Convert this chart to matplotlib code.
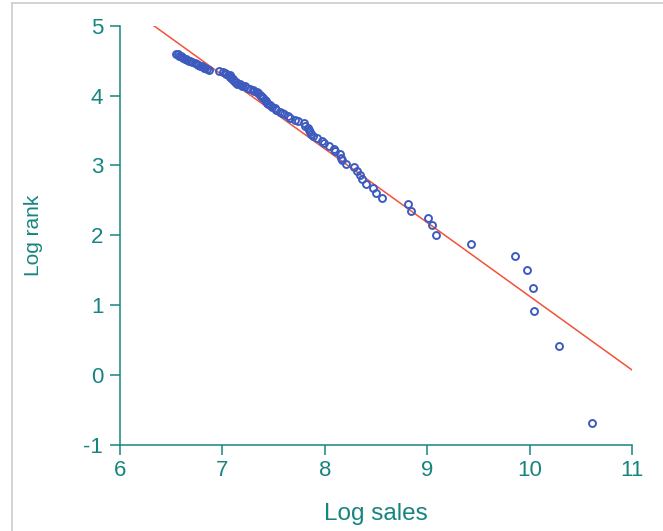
import matplotlib
matplotlib.use("Agg")
import matplotlib.pyplot as plt
from matplotlib.lines import Line2D

# log sales, one value per firm (largest first)
log_sales = [10.61, 10.29, 10.04, 10.03, 9.97, 9.86, 9.43, 9.09, 9.05, 9.01,
             8.84, 8.81, 8.56, 8.50, 8.47, 8.40, 8.36, 8.34, 8.31, 8.29,
             8.21, 8.17, 8.16, 8.15, 8.10, 8.09, 8.04, 7.99, 7.97, 7.92,
             7.88, 7.87, 7.86, 7.85, 7.84, 7.81, 7.80, 7.74, 7.71, 7.66,
             7.64, 7.60, 7.58, 7.56, 7.52, 7.51, 7.48, 7.46, 7.45, 7.44,
             7.43, 7.42, 7.40, 7.39, 7.38, 7.37, 7.35, 7.34, 7.31, 7.30,
             7.27, 7.24, 7.22, 7.19, 7.17, 7.14, 7.13, 7.12, 7.10, 7.10,
             7.08, 7.08, 7.07, 7.07, 7.05, 7.04, 7.03, 7.01, 6.97, 6.87,
             6.85, 6.83, 6.82, 6.80, 6.78, 6.76, 6.75, 6.73, 6.70, 6.68,
             6.67, 6.65, 6.64, 6.63, 6.62, 6.61, 6.60, 6.58, 6.57, 6.55]

# log (rank - 1/2)
log_rank = [-0.69, 0.41, 0.92, 1.25, 1.50, 1.70, 1.87, 2.01, 2.14, 2.25,
            2.35, 2.44, 2.53, 2.60, 2.67, 2.74, 2.80, 2.86, 2.92, 2.97,
            3.02, 3.07, 3.11, 3.16, 3.20, 3.24, 3.28, 3.32, 3.35, 3.39,
            3.42, 3.45, 3.48, 3.51, 3.54, 3.57, 3.60, 3.63, 3.65, 3.68,
            3.70, 3.73, 3.75, 3.77, 3.80, 3.82, 3.84, 3.86, 3.88, 3.90,
            3.92, 3.94, 3.96, 3.98, 4.00, 4.01, 4.03, 4.05, 4.07, 4.08,
            4.10, 4.11, 4.13, 4.14, 4.16, 4.17, 4.19, 4.20, 4.22, 4.23,
            4.25, 4.26, 4.27, 4.29, 4.30, 4.31, 4.32, 4.34, 4.35, 4.37,
            4.38, 4.39, 4.40, 4.42, 4.43, 4.44, 4.45, 4.47, 4.48, 4.49,
            4.50, 4.51, 4.52, 4.53, 4.54, 4.55, 4.56, 4.57, 4.59, 4.60]

# fitted line end points
fit_x = [6.33, 11.0]
fit_y = [5.0, 0.07]

x_ticks = [6, 7, 8, 9, 10, 11]
y_ticks = [-1, 0, 1, 2, 3, 4, 5]

teal = "#17857f"
plt.rcParams["font.family"] = ["Liberation Sans", "DejaVu Sans"]
plt.rcParams["axes.unicode_minus"] = False

fig = plt.figure(figsize=(6.63, 5.31), dpi=100)
ax = fig.add_axes([120 / 663, 1 - 444.7 / 531, 512 / 663, 419 / 531])

ax.plot(fit_x, fit_y, color="#f5503a", lw=1.1, zorder=2)
ax.plot(log_sales, log_rank, ls="none", marker="o", ms=5.0,
        mfc="none", mec="#3d5bbf", mew=1.4, zorder=3)

ax.set_xlim(6, 11)
ax.set_ylim(-1, 5)
ax.set_xticks(x_ticks)
ax.set_yticks(y_ticks)

for s in ["top", "right"]:
    ax.spines[s].set_visible(False)
for s in ["left", "bottom"]:
    ax.spines[s].set_color(teal)
    ax.spines[s].set_linewidth(1.1)
ax.tick_params(axis="both", colors=teal, direction="out", length=7,
               width=1.1, labelsize=16)
ax.tick_params(axis="y", pad=5)
ax.tick_params(axis="x", pad=4)

ax.set_xlabel("Log sales", color=teal, fontsize=17.5)
ax.set_ylabel("Log rank", color=teal, fontsize=15)
ax.xaxis.set_label_coords(0.5, -0.14)
ax.yaxis.set_label_coords(-0.15, 0.5)

# light frame around the picture
fig.add_artist(Line2D([12 / 663, 12 / 663], [0, 1 - 3 / 531],
                      color="#cccccc", lw=1.2))
fig.add_artist(Line2D([12 / 663, 1], [1 - 3 / 531, 1 - 3 / 531],
                      color="#cccccc", lw=1.2))

fig.savefig("out.png", dpi=100)
